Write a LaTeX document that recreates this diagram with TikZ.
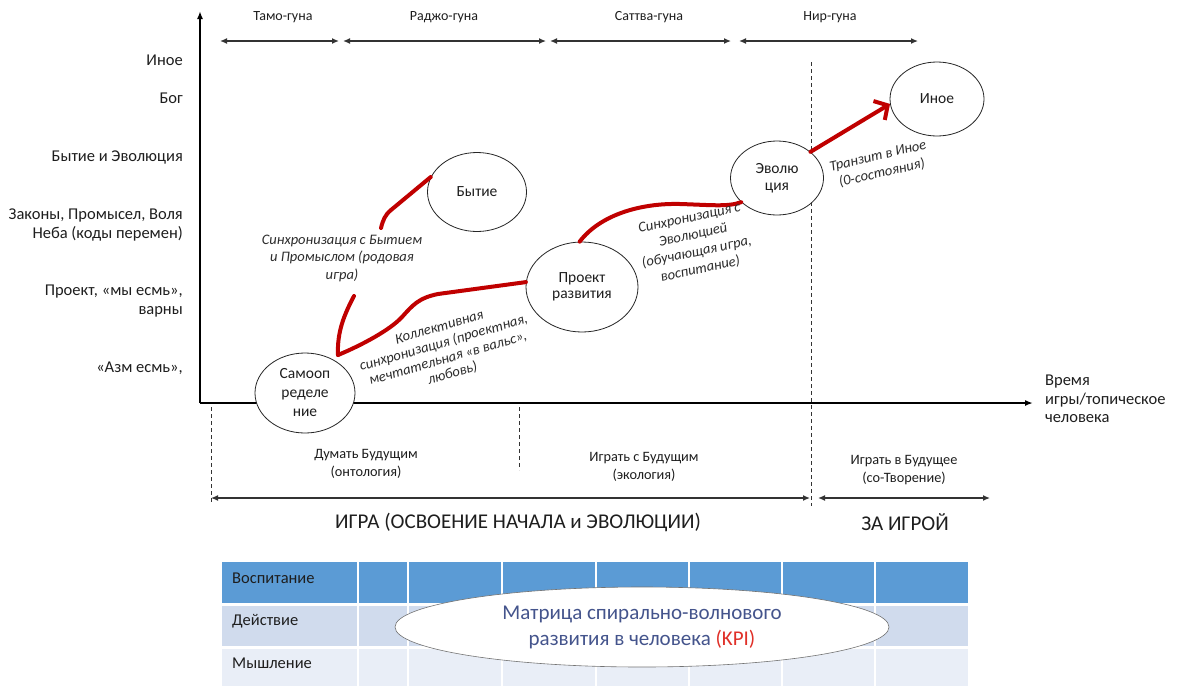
\documentclass[tikz,border=0pt]{standalone}
\usepackage{fontspec}
\setmainfont{Carlito}
\usetikzlibrary{shapes.geometric,arrows.meta}
\definecolor{myred}{RGB}{192,0,0}
\definecolor{txt}{RGB}{30,30,30}
\definecolor{itc}{RGB}{45,45,45}
\definecolor{hdr}{RGB}{91,155,213}
\definecolor{rowa}{RGB}{208,219,237}
\definecolor{rowb}{RGB}{233,238,247}
\definecolor{elltxt}{RGB}{68,84,140}
\definecolor{kpi}{RGB}{224,48,40}
\tikzset{
  circ/.style={ellipse, draw=black!85, line width=0.8pt, fill=white, align=center,
    font=\fontsize{15.5}{17}\selectfont, text=txt, inner sep=0pt},
  ylbl/.style={anchor=east, align=right, font=\fontsize{16.5}{19}\selectfont, text=txt, inner sep=0pt},
  toplbl/.style={font=\fontsize{14}{16}\selectfont, text=txt, inner sep=0pt},
  botlbl/.style={align=center, font=\fontsize{14.3}{18}\selectfont, text=txt, inner sep=0pt},
  biglbl/.style={font=\fontsize{21}{24}\selectfont, text=txt, inner sep=0pt},
  ital/.style={align=center, font=\itshape\fontsize{14.5}{17.5}\selectfont, text=itc, inner sep=0pt},
  redline/.style={draw=myred, line width=4pt, line cap=round},
  harr/.style={{Latex[length=7pt,width=6pt]}-{Latex[length=7pt,width=6pt]}, line width=1.3pt, draw=black!80},
  axisline/.style={line width=1.6pt, draw=black, -{Latex[length=8pt,width=6pt]}},
  dsh/.style={draw=black!80, line width=0.8pt, dash pattern=on 4pt off 3pt},
  tbl/.style={anchor=west, font=\fontsize{16.5}{19}\selectfont, text=txt, inner sep=0pt},
}
\begin{document}
\begin{tikzpicture}[x=1pt,y=-1pt]
\useasboundingbox (0,0) rectangle (1177,686);
\fill[white] (0,0) rectangle (1177,686);

% ---------- table ----------
\fill[hdr]  (222,562) rectangle (968,603);
\fill[rowa] (222,606) rectangle (968,646);
\fill[rowb] (222,649) rectangle (968,686);
\foreach \cx in {358,408,502,596,689,782,875}{
  \draw[white, line width=1.5pt] (\cx,562) -- (\cx,686);
}
\node[tbl] (t1) at (232,578) {Воспитание};
\node[tbl] (t2) at (232,621) {Действие};
\node[tbl] (t3) at (232,663) {Мышление};
\node[ellipse, draw=black!55, line width=0.6pt, fill=white, minimum width=494pt, minimum height=80pt,
      align=center, font=\fontsize{21}{26}\selectfont, text=elltxt, inner sep=0pt] (mx) at (642,627)
      {Матрица спирально-волнового\\развития в человека {\color{kpi}(KPI)}};

% ---------- axes ----------
\coordinate (O) at (200,403);
\coordinate (Ytop) at (200,11);
\coordinate (Xend) at (1033,403);
\draw[axisline] (O) -- (Ytop);
\draw[axisline] (O) -- (Xend);

% ---------- dashed separators ----------
\coordinate (d1a) at (211,407); \coordinate (d1b) at (211,502);
\coordinate (d2a) at (519,407); \coordinate (d2b) at (519,470);
\coordinate (d3a) at (811,62);  \coordinate (d3b) at (811,506);
\draw[dsh] (d1a) -- (d1b);
\draw[dsh] (d2a) -- (d2b);
\draw[dsh] (d3a) -- (d3b);

% ---------- top guna arrows ----------
\coordinate (g0) at (220,41); \coordinate (g1) at (339,41);
\coordinate (g2) at (343,41); \coordinate (g3) at (546,41);
\coordinate (g4) at (550,41); \coordinate (g5) at (731,41);
\coordinate (g6) at (739,41); \coordinate (g7) at (918,41);
\draw[harr] (g0) -- (g1);
\draw[harr] (g2) -- (g3);
\draw[harr] (g4) -- (g5);
\draw[harr] (g6) -- (g7);
\node[toplbl] (gn1) at (283,17) {Тамо-гуна};
\node[toplbl] (gn2) at (444,17) {Раджо-гуна};
\node[toplbl] (gn3) at (649,17) {Саттва-гуна};
\node[toplbl] (gn4) at (830,17) {Нир-гуна};

% ---------- y labels ----------
\node[ylbl] (y1) at (183,60)  {Иное};
\node[ylbl] (y2) at (183,98)  {Бог};
\node[ylbl] (y3) at (183,157) {Бытие и Эволюция};
\node[ylbl] (y4) at (183,225) {Законы, Промысел, Воля\\Неба (коды перемен)};
\node[ylbl] (y5) at (183,301) {Проект, «мы есмь»,\\варны};
\node[ylbl] (y6) at (183,368) {«Азм есмь»,};

% ---------- x label ----------
\node[anchor=west, align=left, font=\fontsize{16.5}{18.5}\selectfont, text=txt, inner sep=0pt] (xl) at (1045,399)
  {Время\\игры/топическое\\человека};

% ---------- bottom labels ----------
\coordinate (b0) at (211,498); \coordinate (b1) at (810,498);
\coordinate (b2) at (818,498); \coordinate (b3) at (990,498);
\draw[harr] (b0) -- (b1);
\draw[harr] (b2) -- (b3);
\node[botlbl] (bl1) at (366,464) {Думать Будущим\\(онтология)};
\node[botlbl] (bl2) at (644,467) {Играть с Будущим\\(экология)};
\node[botlbl] (bl3) at (904,470) {Играть в Будущее\\(со-Творение)};
\node[biglbl] (bg1) at (518,522) {ИГРА (ОСВОЕНИЕ НАЧАЛА и ЭВОЛЮЦИИ)};
\node[biglbl] (bg2) at (905,522) {ЗА ИГРОЙ};

% ---------- circles ----------
\node[circ, minimum width=100pt, minimum height=80pt] (sam) at (305,393) {Самооп\\[2pt]ределе\\[2pt]ние};
\node[circ, minimum width=99pt,  minimum height=79pt] (byt) at (477,192) {Бытие};
\node[circ, minimum width=112pt, minimum height=90pt] (pro) at (582,287) {Проект\\[-1pt]развития};
\node[circ, minimum width=93pt,  minimum height=74pt] (evo) at (777,178) {Эволю\\ция};
\node[circ, minimum width=94pt,  minimum height=74pt] (ino) at (937,99)  {Иное};

% ---------- red curves ----------
\coordinate (v)  at (338,355);
\coordinate (ga) at (354,296);
\coordinate (gb) at (381,228);
\draw[redline] (v) .. controls (337,332) and (344,315) .. (ga);
\draw[redline] (gb) .. controls (383,220) and (385,215) .. (391,210) -- (byt.162);
\draw[redline] (v) .. controls (362,345) and (390,330) .. (402,317)
                   .. controls (412,306) and (418,298) .. (438,294) -- (pro.175);
\draw[redline] (pro.93) .. controls (600,215) and (640,203) .. (680,204)
                        .. controls (712,205) and (728,207) .. (evo.214);
\draw[redline, -{Straight Barb[length=10pt,width=22pt]}] (evo.38) -- (ino.186);

% ---------- italic labels ----------
\node[ital] (l1) at (342,258) {Синхронизация с Бытием\\и Промыслом (родовая\\игра)};
\node[ital, rotate=16, font=\itshape\fontsize{14.5}{16}\selectfont] (l2) at (446,351) {Коллективная\\синхронизация (проектная,\\мечтательная «в вальс»,\\любовь)};
\node[ital, rotate=12] (l3) at (695,244) {Синхронизация с\\Эволюцией\\(обучающая игра,\\воспитание)};
\node[ital, rotate=13] (l4) at (880,165) {Транзит в Иное\\(0-состояния)};
\end{tikzpicture}
\end{document}
